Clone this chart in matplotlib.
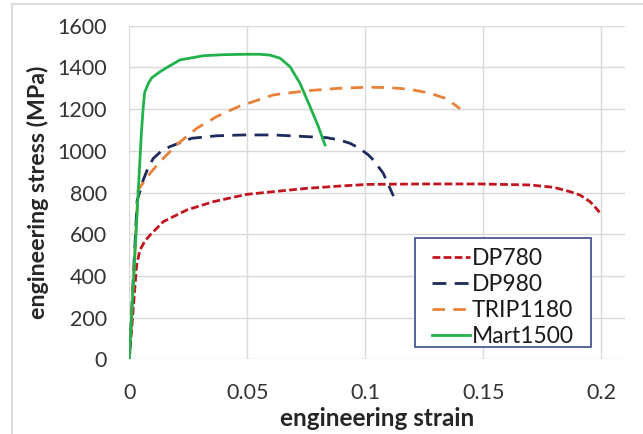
import numpy as np
import matplotlib.pyplot as plt
from matplotlib.patches import Rectangle

plt.rcParams['font.family'] = ['Lato', 'DejaVu Sans']

# values
labels = ['DP780', 'DP980', 'TRIP1180', 'Mart1500']

dp780_strain = [0, 0.0031, 0.0045, 0.0065, 0.0088, 0.0144, 0.0243, 0.0356, 0.0497, 0.0610,
                0.0752, 0.0893, 0.1013, 0.1250, 0.1486, 0.1698, 0.1797, 0.1867,
                0.1909, 0.1952, 0.1975, 0.1992]
dp780_stress = [0, 452, 524, 565, 596, 660, 716, 756, 791, 804,
                820, 831, 839, 841, 841, 836, 825, 804,
                788, 756, 728, 705]

dp980_strain = [0, 0.0033, 0.0059, 0.0080, 0.0102, 0.0135, 0.0172, 0.0264, 0.0370, 0.0483, 0.0610,
                0.0752, 0.0836, 0.0890, 0.0935, 0.0975, 0.1013, 0.1034, 0.1076, 0.1119]
dp980_stress = [0, 760, 860, 920, 964, 998, 1020, 1060, 1072, 1076, 1076,
                1068, 1063, 1052, 1036, 1012, 980, 956, 892, 783]

trip_strain = [0, 0.0037, 0.0088, 0.0130, 0.0208, 0.0286, 0.0370, 0.0462, 0.0610,
               0.0752, 0.0893, 0.1013, 0.1100, 0.1189, 0.1274, 0.1338, 0.1380, 0.1401]
trip_stress = [0, 812, 892, 948, 1036, 1108, 1164, 1212, 1268,
               1288, 1300, 1305, 1303, 1295, 1276, 1252, 1220, 1201]

mart_strain = [0, 0.0045, 0.0052, 0.0059, 0.0065, 0.0081, 0.0095, 0.0130, 0.0160, 0.0215,
               0.0314, 0.0400, 0.0497, 0.0550, 0.0596, 0.0639, 0.0681, 0.0723, 0.0766,
               0.0801, 0.0829]
mart_stress = [0, 956, 1100, 1211, 1280, 1324, 1350, 1379, 1400, 1436,
               1456, 1461, 1463, 1463, 1459, 1444, 1403, 1324, 1211,
               1116, 1028]

colors = ['#C0141E', '#1C2A5C', '#E8823A', '#22B24C']
dashes = [(2.8, 1.2), (5, 3), (4.5, 3), None]

fig = plt.figure(figsize=(6.43, 4.34), dpi=100)
ax = fig.add_axes([0.2011, 0.1721, 0.7709, 0.7687])

series = [(dp780_strain, dp780_stress), (dp980_strain, dp980_stress),
          (trip_strain, trip_stress), (mart_strain, mart_stress)]
for (sx, sy), lab, c, d in zip(series, labels, colors, dashes):
    line, = ax.plot(sx, sy, color=c, lw=2.0, label=lab, solid_joinstyle='round')
    if d is not None:
        line.set_dashes(d)

ax.set_xlim(0, 0.21)
ax.set_ylim(0, 1600)
ax.set_xticks([0, 0.05, 0.1, 0.15, 0.2])
ax.set_xticklabels(['0', '0.05', '0.1', '0.15', '0.2'])
ax.set_yticks(np.arange(0, 1601, 200))
ax.grid(True, color='#D9D9D9', lw=1.0)
ax.set_axisbelow(True)
for s in ax.spines.values():
    s.set_visible(False)
ax.tick_params(length=0, labelsize=15.5, colors='#333333')
ax.tick_params(axis='y', pad=16)
ax.tick_params(axis='x', pad=17)

ax.set_xlabel('engineering strain', fontsize=17.5, fontweight='bold', color='#262626', labelpad=3)
ax.set_ylabel('engineering stress (MPa)', fontsize=16.7, fontweight='bold', color='#262626', labelpad=6)

leg = ax.legend(loc='upper left', bbox_to_anchor=(0.611, 0.334), frameon=False,
                fontsize=16.5, handlelength=1.65, handletextpad=0.08,
                labelspacing=0.22, borderpad=0.0, borderaxespad=0.0)
for t in leg.get_texts():
    t.set_color('#1a1a1a')

ax.add_patch(Rectangle((0.576, 0.036), 0.355, 0.3285, transform=ax.transAxes,
                       fill=True, facecolor='white', edgecolor='#3B4A8A', lw=1.2,
                       zorder=4))
leg.set_zorder(5)

# light frame of the original picture
fig.patches.append(Rectangle((12 / 643, -0.1), 1.2, 1 - 4 / 434 + 0.1,
                             transform=fig.transFigure, fill=False,
                             edgecolor='#DDDDDD', lw=1.5))

fig.savefig('out.png', dpi=100)
